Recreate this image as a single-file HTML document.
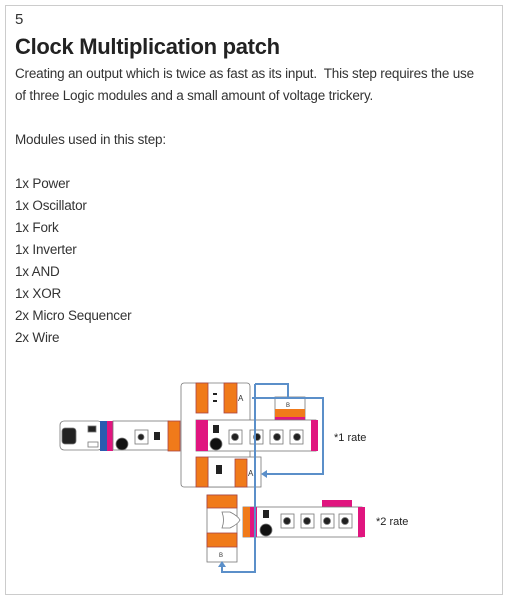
<!DOCTYPE html>
<html><head><meta charset="utf-8"><style>
body{margin:0;width:514px;height:607px;background:#fff;position:relative;overflow:hidden;font-family:"Liberation Sans",sans-serif;color:#333}
#box{position:absolute;left:5px;top:5px;width:496px;height:588px;border:1px solid #ccc}
.t{position:absolute;left:15px;font-size:13.5px;white-space:nowrap;letter-spacing:-0.2px}
</style></head><body>
<div id="box"></div>
<div class="t" style="top:11px;font-size:15px">5</div>
<div class="t" style="top:34px;font-size:22px;font-weight:bold;color:#222;letter-spacing:-0.3px">Clock Multiplication patch</div>
<div class="t" style="top:66px">Creating an output which is twice as fast as its input.&nbsp; This step requires the use</div>
<div class="t" style="top:88px">of three Logic modules and a small amount of voltage trickery.</div>
<div class="t" style="top:132px">Modules used in this step:</div>
<div class="t" style="top:176px">1x Power</div>
<div class="t" style="top:198px">1x Oscillator</div>
<div class="t" style="top:220px">1x Fork</div>
<div class="t" style="top:242px">1x Inverter</div>
<div class="t" style="top:264px">1x AND</div>
<div class="t" style="top:286px">1x XOR</div>
<div class="t" style="top:308px">2x Micro Sequencer</div>
<div class="t" style="top:330px">2x Wire</div>
<svg width="514" height="607" style="position:absolute;left:0;top:0">
<g stroke="#777" stroke-width="0.8" fill="#fff">
<rect x="60" y="421" width="42" height="29" rx="4"/>
<rect x="62" y="428" width="14" height="16" rx="3" fill="#222"/>
<rect x="88" y="426" width="8" height="6" fill="#222"/>
<rect x="88" y="442" width="10" height="5" fill="#fff"/>
<rect x="100" y="421" width="7" height="30" fill="#2a5bb0" stroke="none"/>
<rect x="107" y="421" width="6" height="30" fill="#e0157f" stroke="none"/>
<rect x="113" y="421" width="56" height="29"/>
<circle cx="122" cy="444" r="6" fill="#111"/>
<rect x="135" y="430" width="13" height="14"/>
<circle cx="141" cy="437" r="3" fill="#222"/>
<rect x="154" y="432" width="6" height="8" fill="#222" stroke="none"/>
<rect x="168" y="421" width="12" height="30" fill="#f07a1a" stroke="#a44"/>
<rect x="181" y="383" width="69" height="104" rx="3"/>
<rect x="196" y="383" width="12" height="30" fill="#f07a1a" stroke="#a44"/>
<rect x="224" y="383" width="13" height="30" fill="#f07a1a" stroke="#a44"/>
<rect x="213" y="393" width="4" height="2" fill="#222" stroke="none"/>
<rect x="213" y="400" width="4" height="2" fill="#222" stroke="none"/>
<rect x="275" y="397" width="30" height="26"/>
<rect x="275" y="409" width="30" height="8" fill="#f07a1a" stroke="none"/>
<rect x="275" y="417" width="30" height="7" fill="#e0157f" stroke="none"/>
<rect x="196" y="420" width="120" height="31"/>
<rect x="196" y="420" width="12" height="31" fill="#e0157f" stroke="none"/>
<rect x="311" y="420" width="7" height="31" fill="#e0157f" stroke="none"/>
<circle cx="216" cy="444" r="6" fill="#111"/>
<rect x="213" y="425" width="6" height="8" fill="#222" stroke="none"/>
<rect x="229" y="430" width="13" height="14"/><circle cx="235" cy="437" r="3.5" fill="#222"/>
<rect x="250" y="430" width="13" height="14"/><circle cx="257" cy="437" r="3.5" fill="#222"/>
<rect x="270" y="430" width="13" height="14"/><circle cx="277" cy="437" r="3.5" fill="#222"/>
<rect x="290" y="430" width="13" height="14"/><circle cx="297" cy="437" r="3.5" fill="#222"/>
<rect x="208" y="457" width="53" height="30"/>
<rect x="196" y="457" width="12" height="30" fill="#f07a1a" stroke="#a44"/>
<rect x="235" y="459" width="12" height="28" fill="#f07a1a" stroke="#a44"/>
<rect x="216" y="465" width="6" height="9" fill="#222" stroke="none"/>
<rect x="207" y="495" width="30" height="67"/>
<rect x="207" y="495" width="30" height="13" fill="#f07a1a" stroke="#a44"/>
<rect x="207" y="533" width="30" height="14" fill="#f07a1a" stroke="#a44"/>
<path d="M222 512 h8 q8 4 10 8 q-2 4 -10 8 h-8 q3 -8 0 -16z"/>
<rect x="322" y="500" width="30" height="7" fill="#e0157f" stroke="none"/>
<rect x="243" y="507" width="119" height="30"/>
<rect x="243" y="507" width="7" height="30" fill="#f07a1a" stroke="none"/>
<rect x="250" y="507" width="7" height="30" fill="#e0157f" stroke="none"/>
<rect x="358" y="507" width="7" height="30" fill="#e0157f" stroke="none"/>
<circle cx="266" cy="530" r="6" fill="#111"/>
<rect x="263" y="510" width="6" height="8" fill="#222" stroke="none"/>
<rect x="281" y="514" width="13" height="14"/><circle cx="287" cy="521" r="3.5" fill="#222"/>
<rect x="301" y="514" width="13" height="14"/><circle cx="307" cy="521" r="3.5" fill="#222"/>
<rect x="321" y="514" width="13" height="14"/><circle cx="327" cy="521" r="3.5" fill="#222"/>
<rect x="339" y="514" width="13" height="14"/><circle cx="345" cy="521" r="3.5" fill="#222"/>
</g>
<g fill="none" stroke="#5b8fc9" stroke-width="2">
<path d="M255 384 H288 V397"/>
<path d="M255 384 V572 H222 V564"/>
<path d="M252 398 H323 V474 H265"/>
</g>
<g fill="#5b8fc9">
<path d="M261 474 l6 -4 v8z"/>
<path d="M222 561 l-4 6 h8z"/>
</g>
<g font-family="Liberation Sans,sans-serif" font-size="8" fill="#333">
<text x="238" y="401">A</text><text x="248" y="476">A</text>
<text x="286" y="407" font-size="6">B</text><text x="219" y="557" font-size="6">B</text>
</g>
<g font-family="Liberation Sans,sans-serif" font-size="11" fill="#222">
<text x="334" y="441">*1 rate</text><text x="376" y="525">*2 rate</text>
</g>
</svg>
</body></html>
